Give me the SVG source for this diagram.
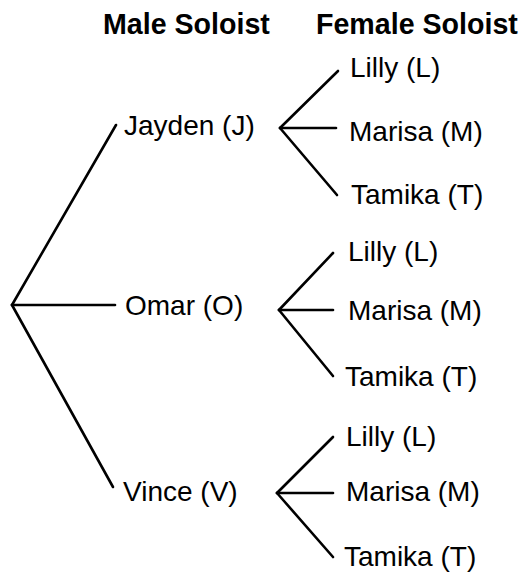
<svg xmlns="http://www.w3.org/2000/svg" width="524" height="573" viewBox="0 0 524 573">
  <style>
    .hdr { font-family: "Liberation Sans", Arial, sans-serif; font-weight: bold; font-size: 28.6px; fill: #000; }
    .lbl { font-family: "Liberation Sans", Arial, sans-serif; font-size: 28px; fill: #000; }
    .edge { stroke: #000; stroke-width: 2.6; stroke-linecap: round; fill: none; }
  </style>
  <rect width="524" height="573" fill="#fff"/>

  <!-- column headings -->
  <text class="hdr" x="103" y="34">Male Soloist</text>
  <text class="hdr" x="316" y="34">Female Soloist</text>

  <!-- tree branches -->
  <g id="connectors" class="edge">
    <!-- root to male soloists -->
    <line x1="12" y1="305" x2="116" y2="125"/>
    <line x1="12" y1="305" x2="115" y2="305"/>
    <line x1="12" y1="305" x2="113" y2="487"/>
    <!-- Jayden to female soloists -->
    <line x1="280" y1="128" x2="338" y2="71"/>
    <line x1="280" y1="128" x2="336" y2="128"/>
    <line x1="280" y1="128" x2="337" y2="195"/>
    <!-- Omar to female soloists -->
    <line x1="279" y1="310" x2="333" y2="253"/>
    <line x1="279" y1="310" x2="333" y2="310"/>
    <line x1="279" y1="310" x2="333" y2="376"/>
    <!-- Vince to female soloists -->
    <line x1="277" y1="493" x2="333" y2="437"/>
    <line x1="277" y1="493" x2="333" y2="493"/>
    <line x1="277" y1="493" x2="333" y2="557"/>
  </g>

  <!-- male soloists -->
  <g id="jayden"><text class="lbl" x="124" y="135">Jayden (J)</text></g>
  <g id="omar"><text class="lbl" x="125" y="315">Omar (O)</text></g>
  <g id="vince"><text class="lbl" x="123" y="501">Vince (V)</text></g>

  <!-- female soloists under Jayden -->
  <g id="jayden-lilly"><text class="lbl" x="350" y="77">Lilly (L)</text></g>
  <g id="jayden-marisa"><text class="lbl" x="349" y="141">Marisa (M)</text></g>
  <g id="jayden-tamika"><text class="lbl" x="351" y="204">Tamika (T)</text></g>

  <!-- female soloists under Omar -->
  <g id="omar-lilly"><text class="lbl" x="348" y="261">Lilly (L)</text></g>
  <g id="omar-marisa"><text class="lbl" x="348" y="320">Marisa (M)</text></g>
  <g id="omar-tamika"><text class="lbl" x="345" y="386">Tamika (T)</text></g>

  <!-- female soloists under Vince -->
  <g id="vince-lilly"><text class="lbl" x="346" y="446">Lilly (L)</text></g>
  <g id="vince-marisa"><text class="lbl" x="346" y="501">Marisa (M)</text></g>
  <g id="vince-tamika"><text class="lbl" x="344" y="566">Tamika (T)</text></g>
</svg>
